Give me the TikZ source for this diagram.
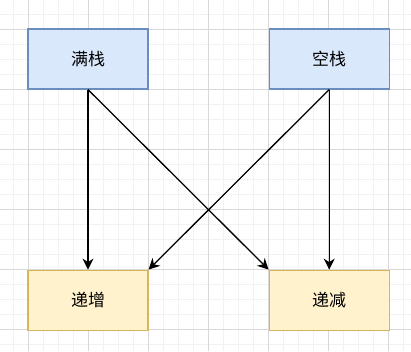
\documentclass[tikz,border=0pt]{standalone}
\usepackage{xcolor}
\usepackage{fontspec}
\usepackage{tikz}
\usetikzlibrary{arrows.meta, positioning}
\newfontfamily\cjk{Noto Sans CJK SC}
\definecolor{stackblue}{HTML}{DAE8FC}
\definecolor{stackblueline}{HTML}{6C8EBF}
\definecolor{orderyellow}{HTML}{FFF2CC}
\definecolor{orderyellowline}{HTML}{D6B656}
\definecolor{minorgray}{HTML}{F2F2F2}
\definecolor{majorgray}{HTML}{D8D8D8}

\begin{document}
\begin{tikzpicture}[
    x=1pt, y=-1pt,
    node distance=120pt,
    box/.style={rounded corners=0pt, minimum width=120pt, minimum height=60pt,
                line width=1.2pt, align=center, font=\cjk\fontsize{17}{20}\selectfont},
    stackbox/.style={box, draw=stackblueline, fill=stackblue},
    orderbox/.style={box, draw=orderyellowline, fill=orderyellow},
    minorline/.style={draw=minorgray, line width=1pt},
    majorline/.style={draw=majorgray, line width=1pt},
    arrow/.style={line width=1.3pt, -{Stealth[length=11pt, width=11pt, inset=3.5pt]}}
]
    % background and grid
    \fill[white] (0,0) rectangle (411,351);
    \useasboundingbox (0,0) rectangle (411,351);
    \foreach \x in {13,28,...,403} \draw[minorline] (\x,0) -- (\x,351);
    \foreach \y in {14,29,...,350} \draw[minorline] (0,\y) -- (411,\y);
    \foreach \x in {28,88,...,388} \draw[majorline] (\x,0) -- (\x,351);
    \foreach \y in {29,89,...,329} \draw[majorline] (0,\y) -- (411,\y);

    % stack kinds
    \node[stackbox] (full) at (88,59) {满栈};
    \node[stackbox, right=of full] (empty) {空栈};
    % growth directions
    \node[orderbox, below=180pt of full] (inc) {递增};
    \node[orderbox, below=180pt of empty] (dec) {递减};

    \draw[arrow] (full.south) -- (inc.north);
    \draw[arrow] (full.south) -- (dec.north west);
    \draw[arrow] (empty.south) -- (dec.north);
    \draw[arrow] (empty.south) -- (inc.north east);
\end{tikzpicture}
\end{document}
